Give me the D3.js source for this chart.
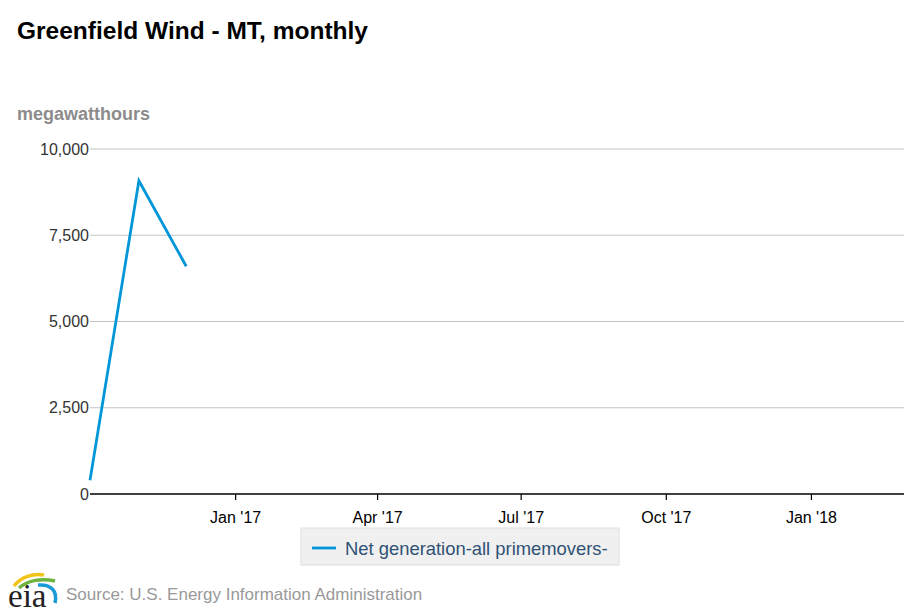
<!DOCTYPE html>
<html>
<head>
<meta charset="utf-8">
<script src="https://cdn.jsdelivr.net/npm/d3@7"></script>
<style>
  body { margin: 0; background: #fff; }
  text { font-family: "Liberation Sans", Arial, sans-serif; }
</style>
</head>
<body>
<div id="chart"></div>
<script>
// data
const months = ["2016-10-01", "2016-11-01", "2016-12-01"];
const netGeneration = [400, 9080, 6600];
const yTicks = [0, 2500, 5000, 7500, 10000];
const xTickDates = ["2017-01-01", "2017-04-01", "2017-07-01", "2017-10-01", "2018-01-01"];
const xDomain = ["2016-10-01", "2018-03-01"];
const seriesName = "Net generation-all primemovers-";

const width = 920, height = 613;
const parseTime = d3.timeParse("%Y-%m-%d");

const svg = d3.select("#chart").append("svg")
  .attr("width", width)
  .attr("height", height);

let data = months.map((m, i) => ({ date: parseTime(m), value: netGeneration[i] }));

let xScale = d3.scaleTime()
  .domain(xDomain.map(parseTime))
  .range([90, 904]);

let yScale = d3.scaleLinear()
  .domain([0, 10000])
  .range([494, 149]);

// title
svg.append("text")
  .attr("x", 17)
  .attr("y", 39)
  .style("font-size", "24.5px")
  .style("font-weight", "bold")
  .style("fill", "#000")
  .text("Greenfield Wind - MT, monthly");

// unit label
svg.append("text")
  .attr("x", 17)
  .attr("y", 120)
  .style("font-size", "18px")
  .style("font-weight", "bold")
  .style("fill", "#8c8c8c")
  .text("megawatthours");

// horizontal grid
svg.selectAll("line.hgrid")
  .data(yTicks.slice(1))
  .enter()
  .append("line")
  .attr("class", "hgrid")
  .attr("x1", 90)
  .attr("x2", 904)
  .attr("y1", d => yScale(d))
  .attr("y2", d => yScale(d))
  .style("stroke", "#c4c4c4")
  .style("stroke-width", 1.2);

// y axis labels
let yAxis = d3.axisLeft(yScale)
  .tickValues(yTicks)
  .tickSize(0)
  .tickPadding(1)
  .tickFormat(d3.format(","));

let yG = svg.append("g")
  .attr("transform", "translate(90, 0)")
  .call(yAxis);
yG.select(".domain").remove();
yG.selectAll("text")
  .style("font-size", "16px")
  .style("fill", "#333")
  .style("font-family", "Liberation Sans, Arial, sans-serif");

// x axis
let xAxis = d3.axisBottom(xScale)
  .tickValues(xTickDates.map(parseTime))
  .tickSize(6)
  .tickPadding(12)
  .tickFormat(d3.timeFormat("%b '%y"));

let xG = svg.append("g")
  .attr("transform", "translate(0, 494)")
  .call(xAxis);
xG.select(".domain")
  .attr("d", "M90,0H904")
  .style("stroke", "#000")
  .style("stroke-width", 1.5);
xG.selectAll(".tick line")
  .style("stroke", "#000")
  .style("stroke-width", 1.2);
xG.selectAll("text")
  .style("font-size", "16px")
  .style("fill", "#000")
  .style("font-family", "Liberation Sans, Arial, sans-serif");

// series line
let line = d3.line()
  .x(d => xScale(d.date))
  .y(d => yScale(d.value));

svg.append("path")
  .datum(data)
  .attr("fill", "none")
  .attr("stroke", "#0096d7")
  .attr("stroke-width", 2.8)
  .attr("d", line);

// legend
let legend = svg.append("g");
legend.append("rect")
  .attr("x", 301)
  .attr("y", 528)
  .attr("width", 318)
  .attr("height", 37)
  .style("fill", "#f0f0f0")
  .style("stroke", "#dedede");
legend.append("line")
  .attr("x1", 312)
  .attr("x2", 336)
  .attr("y1", 548)
  .attr("y2", 548)
  .style("stroke", "#0096d7")
  .style("stroke-width", 2.8);
legend.append("text")
  .attr("x", 345)
  .attr("y", 555)
  .style("font-size", "18.4px")
  .style("fill", "#2f5275")
  .text(seriesName);

// source line with eia logo
let logo = svg.append("g").attr("transform", "translate(8, 572)");
logo.append("path")
  .attr("d", "M6,14 C13,5 25,1 36,3")
  .style("fill", "none").style("stroke", "#f2c318").style("stroke-width", 3.5);
logo.append("path")
  .attr("d", "M11,16 C20,8 34,6 47,9")
  .style("fill", "none").style("stroke", "#6db33f").style("stroke-width", 3.5);
logo.append("path")
  .attr("d", "M30,13 C42,12 50,18 47,31")
  .style("fill", "none").style("stroke", "#1a9ad6").style("stroke-width", 3.5);
logo.append("text")
  .attr("x", 0)
  .attr("y", 35)
  .style("font-family", "Liberation Serif, DejaVu Serif, serif")
  .style("font-size", "33px")
  .style("fill", "#222")
  .text("eia");

svg.append("text")
  .attr("x", 66)
  .attr("y", 600)
  .style("font-size", "17px")
  .style("fill", "#999")
  .text("Source: U.S. Energy Information Administration");
</script>
</body>
</html>
